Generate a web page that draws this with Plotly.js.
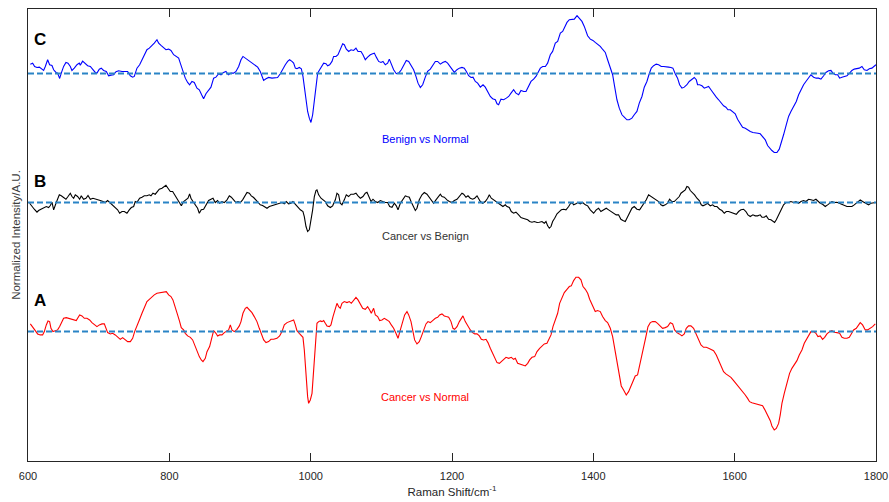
<!DOCTYPE html>
<html><head><meta charset="utf-8">
<script src="https://cdn.plot.ly/plotly-3.0.1.min.js"></script>
<style>html,body{margin:0;padding:0;background:#fff}#chart{width:889px;height:502px}</style>
</head><body><div id="chart"></div>
<script>
// Raman shift (cm^-1) and difference intensity (A.U.) pairs
const spectrumC = [ // Benign vs Normal
[603.3,0.093],[606.6,0.103],[609.4,0.070],[612.7,0.060],[616.0,0.063],[618.3,0.047],[622.1,0.030],[624.5,0.070],[627.8,0.137],[630.6,0.087],
[633.9,0.080],[636.3,0.037],[639.6,0.010],[641.9,0.003],[644.8,-0.050],[647.1,0.003],[650.4,0.070],[653.7,0.110],[656.6,0.103],[659.9,0.070],
[662.2,0.030],[665.5,0.053],[669.3,0.087],[672.6,0.103],[674.0,0.083],[677.3,0.123],[681.1,0.103],[684.4,0.077],[688.2,0.070],[691.5,0.043],
[695.2,0.010],[697.6,0.003],[700.9,0.043],[703.7,0.053],[707.0,0.030],[710.8,0.020],[714.1,-0.023],[717.4,-0.017],[721.2,-0.013],[724.5,0.017],
[728.3,0.027],[733.0,0.020],[737.7,0.023],[741.0,0.020],[744.8,-0.023],[748.1,-0.037],[750.4,-0.030],[754.2,0.053],[758.0,0.087],[761.3,0.137],
[764.6,0.187],[768.3,0.237],[771.7,0.253],[775.4,0.277],[778.7,0.303],[782.5,0.337],[784.9,0.303],[788.2,0.280],[791.9,0.260],[795.2,0.237],
[799.0,0.243],[802.3,0.230],[806.1,0.187],[809.4,0.170],[813.2,0.153],[815.5,0.103],[818.8,0.037],[822.6,-0.047],[825.9,-0.090],[828.7,-0.113],
[832.0,-0.080],[835.3,-0.090],[839.1,-0.147],[842.4,-0.163],[845.7,-0.213],[848.5,-0.253],[851.8,-0.203],[855.6,-0.163],[858.9,-0.137],[862.7,-0.047],
[866.0,-0.037],[869.8,-0.003],[873.1,-0.013],[876.8,0.010],[880.1,0.020],[883.5,-0.013],[887.2,0.003],[891.0,0.003],[894.3,0.020],[898.1,0.070],
[901.4,0.137],[904.2,0.170],[907.5,0.153],[910.8,0.137],[914.6,0.120],[917.9,0.103],[921.6,0.077],[925.0,0.063],[928.7,0.020],[931.1,-0.023],
[933.4,-0.070],[936.8,-0.053],[940.5,-0.040],[945.2,-0.047],[950.0,-0.047],[953.2,-0.040],[957.0,-0.003],[960.8,0.053],[964.1,0.087],[967.4,0.120],
[970.2,0.137],[973.5,0.120],
[975.9,0.103],[978.3,0.053],[980.6,0.047],[983.9,0.060],[986.8,0.047],[989.1,-0.030],[991.0,-0.130],[993.4,-0.263],[995.7,-0.380],[998.1,-0.447],
[1000.4,-0.490],[1002.8,-0.413],[1005.2,-0.263],[1007.5,-0.097],[1009.9,0.003],[1012.7,0.037],[1016.0,0.077],[1018.4,0.103],[1021.7,0.097],[1024.0,0.077],
[1026.9,0.087],[1030.2,0.120],[1032.5,0.170],[1035.8,0.170],[1038.7,0.187],[1042.0,0.237],[1045.3,0.297],[1047.6,0.287],[1050.5,0.243],[1053.8,0.220],
[1057.1,0.237],[1060.8,0.230],[1064.1,0.253],[1067.0,0.220],[1071.2,0.220],[1074.0,0.187],[1077.3,0.137],[1080.6,0.163],[1084.4,0.187],[1087.7,0.197],
[1090.1,0.203],[1092.9,0.163],[1096.2,0.120],[1099.5,0.110],[1102.3,0.120],[1105.6,0.087],[1108.9,0.103],[1111.3,0.143],[1114.1,0.097],[1117.4,0.037],
[1121.2,-0.003],[1124.5,0.003],[1128.3,0.037],[1131.6,0.077],[1135.3,0.130],[1138.7,0.120],[1142.0,0.087],[1145.7,0.037],[1149.0,-0.030],[1151.9,-0.097],
[1155.2,-0.140],[1158.5,-0.113],[1162.2,-0.037],[1165.5,0.020],[1169.3,0.043],[1172.6,0.077],[1176.4,0.120],[1179.7,0.120],[1183.5,0.093],[1186.8,0.110],
[1190.5,0.120],[1193.8,0.103],[1197.6,0.070],[1200.9,0.037],[1203.3,0.010],[1207.0,0.037],[1210.4,0.053],[1214.1,0.060],[1217.4,0.053],[1220.3,0.020],
[1223.6,-0.023],[1226.9,-0.040],[1229.7,-0.037],[1233.0,-0.080],[1236.3,-0.097],[1240.1,-0.137],[1243.9,-0.113],[1247.1,-0.137],[1250.4,-0.180],[1254.2,-0.230],
[1257.5,-0.253],[1261.3,-0.263],[1263.7,-0.303],[1266.0,-0.313],[1269.3,-0.257],[1273.1,-0.263],[1276.9,-0.247],[1280.2,-0.230],[1283.5,-0.197],[1287.2,-0.163],
[1290.5,-0.197],[1294.3,-0.213],[1297.6,-0.170],[1301.4,-0.180],[1304.7,-0.180],[1308.5,-0.130],[1311.8,-0.080],[1315.5,-0.057],[1318.8,-0.030],[1321.2,0.003],
[1325.0,0.053],[1328.3,0.070],[1332.1,0.070],[1335.3,0.103],[1339.1,0.187],[1342.4,0.220],[1346.2,0.303],[1349.5,0.320],[1353.3,0.403],[1356.6,0.420],
[1359.4,0.470],[1362.7,0.510],[1366.0,0.537],[1369.8,0.543],[1373.1,0.543],[1376.9,0.577],[1380.2,0.553],[1383.9,0.520],
[1387.2,0.470],[1391.9,0.377],[1395.7,0.343],[1399.4,0.330],[1402.7,0.310],[1406.0,0.293],[1409.8,0.270],[1413.6,0.237],[1416.9,0.210],[1420.2,0.137],
[1424.0,0.053],[1427.3,-0.013],[1430.1,-0.130],[1433.4,-0.263],[1436.7,-0.347],[1440.5,-0.413],[1443.8,-0.437],[1447.5,-0.463],[1450.8,-0.463],[1454.6,-0.447],
[1457.9,-0.413],[1461.7,-0.380],[1465.0,-0.297],[1468.8,-0.230],[1472.1,-0.137],[1475.8,-0.080],[1479.1,-0.003],[1482.0,0.053],[1485.3,0.077],[1489.0,0.093],
[1492.4,0.087],[1496.1,0.070],[1499.4,0.070],[1503.2,0.063],[1506.5,0.063],[1509.8,0.060],[1512.6,0.053],[1515.9,-0.003],[1519.2,-0.047],[1522.1,-0.113],
[1525.4,-0.147],[1528.7,-0.137],[1532.4,-0.113],[1535.7,-0.080],[1539.5,-0.057],[1542.8,-0.040],[1545.7,-0.063],[1547.5,-0.113],[1550.4,-0.113],[1553.7,-0.123],
[1557.0,-0.147],[1560.7,-0.137],[1563.1,-0.130],[1566.4,-0.163],[1570.2,-0.203],[1574.0,-0.237],[1577.3,-0.263],[1580.6,-0.297],[1584.3,-0.323],[1587.6,-0.337],
[1590.5,-0.363],[1593.8,-0.363],[1597.1,-0.380],[1600.8,-0.403],[1604.1,-0.457],[1607.9,-0.503],[1611.2,-0.537],[1615.0,-0.547],[1618.3,-0.563],[1622.1,-0.580],
[1625.8,-0.590],[1629.1,-0.590],[1632.9,-0.597],[1636.2,-0.603],[1640.0,-0.630],[1643.3,-0.663],[1646.6,-0.720],[1649.4,-0.747],[1652.7,-0.770],[1656.0,-0.790],
[1659.8,-0.790],[1663.1,-0.757],[1665.9,-0.697],[1669.2,-0.613],[1673.0,-0.513],[1676.3,-0.430],[1679.6,-0.380],[1683.4,-0.330],[1687.2,-0.280],[1690.5,-0.213],
[1693.8,-0.157],[1697.5,-0.113],[1700.8,-0.080],[1704.6,-0.037],[1707.9,-0.013],[1711.7,-0.037],[1715.4,-0.047],[1718.8,-0.047],[1722.1,-0.057],[1725.9,-0.023],
[1729.1,0.010],[1732.9,0.027],[1736.2,0.030],[1739.0,0.003],[1742.4,-0.013],[1745.7,-0.013],[1748.5,-0.047],[1751.8,-0.037],[1755.1,-0.030],[1758.9,-0.023],
[1762.6,0.003],[1765.9,0.030],[1769.2,0.043],[1773.0,0.047],[1776.3,0.053],[1780.1,0.070],[1783.4,0.037],[1787.2,0.030],[1790.5,0.047],[1794.2,0.053],
[1797.5,0.070],[1799.9,0.087]
];
const spectrumB = [ // Cancer vs Benign
[602.3,-0.007],[605.6,-0.040],[608.9,-0.067],[612.7,-0.097],[615.0,-0.080],[618.3,-0.067],[622.1,-0.057],[625.9,-0.040],[629.2,-0.050],[631.6,-0.030],
[633.9,0.003],[636.3,-0.073],[639.6,-0.007],[641.9,0.043],[644.3,0.077],[647.1,0.067],[650.4,0.053],[653.7,0.033],[656.6,0.060],[659.9,0.093],
[662.2,0.060],[664.6,0.043],[666.9,0.077],[670.2,0.060],[673.1,0.033],[675.4,0.067],[678.7,0.033],[682.0,0.043],[684.9,0.070],[688.2,0.033],
[691.9,0.043],[695.2,0.037],[698.5,0.033],[702.3,0.020],[706.1,0.010],[709.4,0.000],[712.7,0.020],[716.5,-0.007],[719.8,-0.023],[723.5,-0.057],
[726.8,-0.073],[729.7,-0.107],[733.0,-0.090],[736.3,-0.090],[740.0,-0.107],[743.3,-0.073],[746.2,-0.050],[749.5,-0.040],[751.8,0.010],[754.2,0.003],
[758.0,0.043],[761.3,0.053],[764.6,0.067],[768.3,0.067],[771.7,0.077],[774.0,0.067],[776.8,0.093],[780.1,0.083],[782.5,0.100],[785.8,0.133],
[789.6,0.143],[792.9,0.167],[795.2,0.173],[798.1,0.143],[801.4,0.110],[804.7,0.110],[807.5,0.077],[810.8,0.043],[814.1,-0.007],[817.0,-0.033],
[820.2,0.010],[823.5,0.027],[826.4,0.043],[828.7,0.087],[830.6,0.043],[833.4,0.010],[836.7,-0.023],[840.0,-0.057],[842.4,-0.107],[845.2,-0.073],
[848.5,-0.067],[851.8,-0.023],[855.6,0.020],[858.9,0.033],[861.8,0.043],[865.0,0.000],[868.3,0.020],[871.2,-0.007],[874.5,0.010],[877.8,0.000],
[881.6,0.027],[884.9,0.067],[887.7,0.053],[891.0,0.027],[894.3,0.000],[897.1,0.010],[900.4,0.000],[903.7,0.027],[906.6,0.060],[909.9,0.100],
[913.2,0.093],[916.0,0.067],[919.3,0.050],[922.6,0.027],[925.4,0.010],[928.7,-0.023],[932.0,-0.030],[934.9,-0.040],[938.2,-0.057],[941.5,-0.040],
[945.2,-0.033],[948.5,-0.023],[952.3,-0.013],[956.1,-0.007],[959.4,0.000],[962.7,-0.013],[965.5,0.010],[968.8,-0.013],[972.1,-0.007],[974.9,0.010],
[978.3,-0.017],[983.0,-0.057],[985.4,-0.073],[989.1,-0.090],[991.0,-0.140],[993.4,-0.240],[995.7,-0.290],[998.1,-0.273],[1000.4,-0.190],[1002.8,-0.073],
[1005.2,0.060],[1007.5,0.120],[1008.9,0.127],[1011.3,0.077],[1014.6,0.043],[1017.4,0.027],[1020.7,0.010],[1024.0,-0.033],[1027.8,-0.050],[1031.1,-0.033],
[1034.9,0.027],[1037.2,0.093],[1039.6,0.077],[1041.9,-0.007],[1044.3,-0.023],[1047.6,0.027],[1050.4,0.077],[1053.7,0.060],[1057.0,0.083],[1060.8,0.083],
[1064.1,0.093],[1067.0,0.067],[1070.3,0.043],[1074.0,0.060],[1077.3,0.093],[1079.7,0.103],[1082.0,0.060],[1085.4,0.010],[1088.2,0.033],[1091.5,0.010],
[1094.8,0.000],[1098.6,0.020],[1101.9,0.010],[1105.6,0.000],[1108.9,0.000],[1111.8,-0.040],[1115.1,-0.047],[1118.4,-0.007],[1121.2,-0.033],[1123.6,-0.073],
[1126.9,-0.007],[1130.2,0.027],[1133.9,0.067],[1136.3,0.060],[1139.6,0.053],[1142.0,0.010],[1144.8,-0.040],[1148.1,-0.080],[1150.4,-0.057],[1153.7,0.027],
[1157.5,0.077],[1160.8,0.100],[1164.6,0.083],[1166.9,0.060],[1170.3,0.027],[1174.0,-0.007],[1177.3,0.027],[1181.1,0.060],[1183.5,0.083],[1185.8,0.060],
[1189.1,0.053],[1192.9,0.027],[1196.2,0.010],[1200.0,0.000],[1203.3,0.020],[1207.1,0.033],[1210.4,0.060],[1214.1,0.093],[1216.5,0.083],[1219.8,0.053],
[1222.6,0.067],[1225.9,0.043],[1229.2,0.033],[1232.1,0.043],[1235.4,0.067],[1237.7,0.043],[1240.1,0.010],[1243.4,-0.007],[1247.1,0.010],[1250.4,0.043],
[1252.8,0.077],[1255.6,0.043],[1258.9,0.027],[1262.2,0.010],[1266.0,-0.007],[1269.3,-0.023],[1272.1,-0.040],[1275.4,-0.023],[1277.8,-0.040],[1281.1,-0.050],
[1283.9,-0.090],[1287.2,-0.107],[1290.5,-0.097],[1294.3,-0.123],[1297.6,-0.150],[1300.4,-0.157],[1303.7,-0.167],[1307.1,-0.173],[1309.9,-0.190],[1313.2,-0.197],
[1316.5,-0.190],[1320.3,-0.200],[1323.6,-0.197],[1327.3,-0.190],[1330.6,-0.207],[1333.0,-0.190],[1335.4,-0.233],[1337.7,-0.257],[1340.1,-0.240],[1342.4,-0.190],
[1345.3,-0.157],[1348.6,-0.113],[1351.9,-0.090],[1354.7,-0.073],[1358.0,-0.067],[1361.3,-0.073],[1365.1,-0.040],[1367.4,-0.013],[1369.8,0.000],[1372.1,-0.023],
[1375.4,-0.013],[1377.8,0.000],[1381.6,-0.013],[1384.9,0.000],[1388.7,-0.023],[1392.0,-0.033],
[1395.7,-0.073],[1400.4,-0.107],[1404.1,-0.073],[1407.4,-0.057],[1410.7,-0.090],[1414.5,-0.073],[1418.3,-0.057],[1421.6,-0.073],[1424.9,-0.090],[1428.7,-0.107],
[1432.4,-0.123],[1435.7,-0.123],[1439.0,-0.167],[1441.9,-0.180],[1445.2,-0.190],[1447.5,-0.157],[1451.3,-0.107],[1454.6,-0.057],[1457.9,-0.040],[1461.7,-0.067],
[1465.5,-0.073],[1468.8,-0.040],[1472.1,-0.007],[1474.9,0.027],[1478.2,0.077],[1481.5,0.060],[1485.3,0.043],[1489.1,0.020],[1492.4,0.010],[1495.7,-0.023],
[1498.5,-0.033],[1501.8,-0.023],[1505.1,-0.007],[1507.9,0.033],[1511.2,0.010],[1514.5,0.010],[1518.3,0.033],[1521.6,0.060],[1524.0,0.093],[1526.8,0.110],
[1530.1,0.127],[1532.4,0.160],[1534.8,0.153],[1537.2,0.120],[1540.5,0.100],[1543.3,0.077],[1546.6,0.043],[1549.9,0.020],[1552.7,-0.023],[1555.1,-0.033],
[1558.4,-0.023],[1561.7,-0.007],[1565.5,-0.033],[1568.8,-0.023],[1571.6,-0.040],[1574.9,-0.040],[1578.7,-0.067],[1582.0,-0.080],[1585.3,-0.107],[1588.1,-0.090],
[1591.4,-0.090],[1594.7,-0.100],[1598.5,-0.107],[1602.3,-0.117],[1605.6,-0.090],[1608.9,-0.073],[1612.6,-0.067],[1615.9,-0.090],[1618.8,-0.123],[1622.1,-0.140],
[1625.8,-0.123],[1629.1,-0.133],[1632.4,-0.133],[1636.2,-0.123],[1638.6,-0.147],[1641.9,-0.147],[1644.7,-0.133],[1648.0,-0.167],[1651.3,-0.173],[1654.1,-0.190],
[1656.5,-0.200],[1658.9,-0.173],[1662.2,-0.123],[1665.5,-0.073],[1669.2,-0.023],[1672.5,0.000],[1676.3,0.000],[1679.6,0.010],[1683.4,0.000],[1686.7,0.010],
[1690.5,-0.007],[1693.8,0.010],[1697.5,0.020],[1700.8,0.010],[1704.6,0.033],[1707.9,0.027],[1711.7,0.020],[1715.0,0.033],[1717.8,0.010],[1721.1,-0.007],
[1724.4,-0.017],[1728.2,-0.040],[1731.5,-0.023],[1734.3,-0.007],[1737.6,0.010],[1740.9,0.000],[1744.7,0.003],[1748.0,-0.007],[1751.8,-0.017],[1755.1,-0.030],
[1758.9,-0.040],[1762.2,-0.040],[1765.9,-0.040],[1769.2,-0.023],[1772.1,-0.007],[1775.4,0.010],[1777.7,0.027],[1781.0,0.010],[1783.4,0.000],[1786.2,-0.007],
[1789.5,-0.023],[1792.8,-0.007],[1796.6,0.000],[1799.9,0.000]
];
const spectrumA = [ // Cancer vs Normal
[603.3,0.077],[606.6,0.050],[610.3,0.010],[613.6,-0.023],[617.4,-0.033],[620.7,-0.033],[623.1,0.000],[625.9,0.067],[628.3,0.107],[630.6,0.100],
[632.5,0.033],[635.3,0.000],[638.6,0.007],[641.9,0.017],[644.8,0.050],[648.1,0.107],[650.4,0.133],[654.2,0.140],[657.5,0.133],[660.8,0.133],
[664.6,0.123],[668.3,0.110],[670.2,0.133],[673.1,0.167],[676.4,0.157],[679.7,0.133],[683.4,0.133],[687.2,0.117],[690.5,0.090],[693.8,0.067],
[697.6,0.050],[700.9,0.067],[704.7,0.077],[708.0,0.077],[710.8,0.033],[712.7,-0.010],[716.5,-0.023],[719.8,-0.017],[723.5,-0.033],[726.8,-0.057],
[730.6,-0.077],[733.9,-0.060],[737.7,-0.077],[741.0,-0.100],[744.8,-0.100],[748.1,-0.067],[750.9,0.000],[754.2,0.067],[758.0,0.123],[761.3,0.183],
[764.6,0.233],[768.3,0.300],[771.7,0.323],[775.4,0.350],[778.7,0.367],[782.5,0.383],[786.3,0.390],[789.6,0.393],[792.9,0.400],[795.7,0.400],
[799.0,0.367],[802.3,0.350],[805.1,0.317],[808.4,0.250],[811.7,0.167],[814.6,0.100],[816.9,0.040],[820.2,0.017],[822.6,-0.017],[825.9,-0.043],
[829.7,-0.057],[833.0,-0.083],[835.8,-0.133],[839.1,-0.200],[842.4,-0.250],[845.2,-0.283],[847.6,-0.300],[850.9,-0.267],[853.3,-0.200],[857.0,-0.150],
[859.4,-0.083],[862.7,0.010],[866.0,-0.017],[868.3,-0.043],[871.2,-0.033],[874.5,-0.033],[877.8,-0.010],[880.6,0.000],[883.9,0.017],[886.3,0.067],
[888.6,0.017],[891.9,0.000],[895.7,0.023],[899.0,0.057],[901.4,0.100],[904.2,0.183],[907.5,0.233],[909.9,0.243],[913.2,0.217],[916.9,0.190],
[920.2,0.150],[924.0,0.100],[927.3,0.033],[930.1,-0.023],[933.5,-0.083],[936.8,-0.110],[940.5,-0.100],[943.8,-0.077],[947.6,-0.077],[952.3,-0.067],
[956.1,-0.043],[959.4,0.000],[962.7,0.067],[966.5,0.090],[969.8,0.100],[973.5,0.107],[975.9,0.117],[978.3,0.067],[980.6,0.010],[983.9,-0.017],
[986.3,-0.033],[989.1,-0.057],[991.0,-0.183],[992.4,-0.350],[993.8,-0.517],[995.7,-0.650],[997.1,-0.717],[999.5,-0.683],[1001.9,-0.617],[1004.2,-0.417],
[1006.6,-0.150],[1008.9,0.083],[1011.3,0.100],[1013.7,0.107],[1016.0,0.100],[1018.4,0.110],[1020.7,0.083],[1023.1,0.057],[1026.4,0.050],[1028.7,0.067],
[1031.6,0.150],[1033.9,0.217],[1037.2,0.283],[1039.6,0.250],[1041.9,0.233],[1044.3,0.283],[1047.6,0.300],[1051.4,0.290],[1054.7,0.300],[1057.5,0.283],
[1060.8,0.317],[1064.1,0.343],[1067.0,0.317],[1070.3,0.267],[1073.6,0.233],[1077.3,0.223],[1080.6,0.250],[1083.5,0.217],[1085.8,0.183],[1089.1,0.233],
[1091.5,0.167],[1094.8,0.150],[1097.6,0.110],[1100.9,0.117],[1104.2,0.133],[1108.0,0.117],[1111.3,0.100],[1114.1,0.067],[1117.4,0.033],[1120.7,-0.017],
[1123.6,-0.067],[1126.9,0.017],[1130.2,0.100],[1133.0,0.167],[1136.3,0.200],[1138.7,0.167],[1142.0,0.100],[1144.8,0.000],[1147.1,-0.083],[1150.4,-0.123],
[1153.7,-0.100],[1156.6,-0.050],[1159.9,0.017],[1163.2,0.077],[1166.0,0.100],[1169.3,0.090],[1172.6,0.110],[1176.4,0.133],[1179.7,0.143],[1182.5,0.167],
[1185.8,0.177],[1189.1,0.157],[1191.9,0.150],[1195.3,0.143],[1198.6,0.100],[1201.4,0.033],[1203.7,0.023],[1207.1,0.050],[1210.4,0.100],[1213.2,0.133],
[1215.5,0.157],[1218.8,0.100],[1222.1,0.057],[1225.9,0.017],[1229.2,-0.010],[1232.1,-0.023],[1235.4,-0.023],[1238.7,-0.043],[1241.5,-0.077],[1244.8,-0.083],
[1248.1,-0.077],[1250.9,-0.110],[1254.2,-0.167],[1257.5,-0.217],[1260.4,-0.250],[1263.7,-0.310],[1267.0,-0.317],[1269.8,-0.300],[1273.1,-0.277],[1276.4,-0.257],
[1280.2,-0.267],[1283.9,-0.257],[1287.2,-0.277],[1289.6,-0.267],[1292.9,-0.317],[1296.7,-0.323],[1300.0,-0.333],[1303.7,-0.343],[1307.1,-0.317],[1309.9,-0.283],
[1313.2,-0.257],[1317.0,-0.250],[1320.3,-0.200],[1324.0,-0.167],[1327.3,-0.143],[1330.6,-0.123],[1334.4,-0.117],[1336.8,-0.083],[1340.1,-0.033],[1342.9,0.050],
[1346.2,0.117],[1349.5,0.183],[1352.3,0.283],[1355.6,0.343],[1358.9,0.390],[1362.7,0.423],[1366.0,0.450],[1368.8,0.457],[1372.1,0.510],[1375.4,0.543],
[1379.2,0.543],[1382.5,0.517],[1385.4,0.450],[1388.7,0.423],[1392.0,0.383],[1394.8,0.323],
[1399.4,0.250],[1402.7,0.200],[1406.0,0.210],[1409.8,0.200],[1413.1,0.150],[1416.9,0.110],[1420.2,0.090],[1424.0,0.033],[1427.3,-0.050],[1430.1,-0.167],
[1433.4,-0.283],[1436.7,-0.417],[1439.5,-0.543],[1442.8,-0.583],[1446.6,-0.633],[1449.9,-0.600],[1453.2,-0.550],[1457.0,-0.483],[1459.3,-0.443],[1462.6,-0.433],
[1465.5,-0.343],[1468.8,-0.250],[1471.1,-0.183],[1474.4,-0.050],[1477.3,0.050],[1480.6,0.090],[1483.9,0.100],[1487.6,0.100],[1490.9,0.083],[1494.7,0.050],
[1498.0,0.033],[1501.8,0.040],[1505.1,0.050],[1508.9,0.090],[1512.2,0.077],[1515.0,0.017],[1518.3,-0.010],[1521.6,-0.023],[1525.4,-0.043],[1528.7,-0.023],
[1531.5,0.033],[1534.8,0.057],[1538.1,0.057],[1541.9,0.033],[1545.2,-0.017],[1549.0,-0.090],[1552.3,-0.133],[1556.0,-0.157],[1559.8,-0.157],[1563.1,-0.167],
[1566.9,-0.177],[1570.2,-0.190],[1574.0,-0.233],[1577.3,-0.283],[1580.6,-0.333],[1584.3,-0.400],[1587.6,-0.423],[1591.4,-0.443],[1594.7,-0.457],[1598.5,-0.490],
[1601.8,-0.517],[1604.6,-0.550],[1607.9,-0.567],[1611.2,-0.600],[1615.0,-0.633],[1618.3,-0.667],[1621.1,-0.700],[1624.4,-0.710],[1629.1,-0.717],[1632.9,-0.723],
[1636.2,-0.733],[1639.5,-0.740],[1642.4,-0.777],[1645.7,-0.823],[1648.0,-0.850],[1650.4,-0.890],[1652.7,-0.943],[1656.0,-0.983],[1658.9,-0.967],[1662.2,-0.917],
[1664.5,-0.833],[1666.9,-0.717],[1670.2,-0.617],[1674.0,-0.517],[1677.7,-0.417],[1681.0,-0.367],[1684.3,-0.333],[1688.1,-0.290],[1691.4,-0.233],[1695.2,-0.183],
[1698.5,-0.117],[1701.3,-0.083],[1704.6,-0.033],[1707.9,0.000],[1711.7,0.000],[1715.0,-0.017],[1717.8,-0.050],[1721.1,-0.043],[1724.4,-0.077],[1727.3,-0.057],
[1730.6,-0.023],[1734.3,0.000],[1737.6,0.010],[1740.9,-0.007],[1744.7,-0.010],[1748.5,-0.017],[1751.8,-0.057],[1755.1,-0.067],[1758.9,-0.067],[1762.2,-0.057],
[1765.0,-0.023],[1768.3,0.017],[1772.1,0.033],[1775.4,0.067],[1777.7,0.090],[1781.0,0.067],[1784.8,0.017],[1788.1,0.017],[1791.9,0.033],[1795.2,0.050],
[1799.0,0.077]
];
const seriesLabels = ['Benign vs Normal', 'Cancer vs Benign', 'Cancer vs Normal'];
const panelLetters = ['C', 'B', 'A'];
const offsets = [3.873, 2.583, 1.293];     // vertical stacking offsets (A.U.)
const xRange = [600, 1800];
const xTicks = [600, 800, 1000, 1200, 1400, 1600, 1800];
const yRange = [0, 4.517];

const colors = ['#0000ff', '#000000', '#ff0000'];
const labelColors = ['#0000ff', '#333333', '#ff0000'];
const spectra = [spectrumC, spectrumB, spectrumA];
const FONT = '"Liberation Sans", Arial, Helvetica, sans-serif';

const traces = [];
spectra.forEach((s, i) => {
  traces.push({
    x: s.map(p => p[0]), y: s.map(p => p[1] + offsets[i]),
    type: 'scatter', mode: 'lines', line: {color: colors[i], width: 1.1},
    hoverinfo: 'skip', showlegend: false
  });
});
offsets.forEach(o => {
  traces.push({
    x: xRange, y: [o, o], type: 'scatter', mode: 'lines',
    line: {color: '#2a84c6', width: 2, dash: '6px,3px'},
    hoverinfo: 'skip', showlegend: false
  });
});

const annotations = [];
const letterY = [4.21, 2.79, 1.60];
const labelY = [3.22, 2.25, 0.64];
panelLetters.forEach((l, i) => {
  annotations.push({x: 617, y: letterY[i], xref: 'x', yref: 'y', text: '<b>' + l + '</b>',
    showarrow: false, font: {family: FONT, size: 17, color: '#000'}});
  annotations.push({x: 1162, y: labelY[i], xref: 'x', yref: 'y', text: seriesLabels[i],
    showarrow: false, font: {family: FONT, size: 11, color: labelColors[i]}});
});

const layout = {
  width: 889, height: 502,
  margin: {l: 28, r: 13, t: 9, b: 41},
  paper_bgcolor: '#fff', plot_bgcolor: '#fff',
  font: {family: FONT, color: '#262626'},
  xaxis: {
    range: xRange, tickvals: xTicks, ticktext: xTicks.map(String),
    ticks: 'inside', ticklen: 8, tickcolor: '#262626', tickwidth: 1,
    ticklabelstandoff: 5,
    showline: true, linecolor: '#262626', linewidth: 1, mirror: 'ticks',
    showgrid: false, zeroline: false,
    tickfont: {family: FONT, size: 11, color: '#262626'},
    title: {text: 'Raman Shift/cm<sup>-1</sup>', font: {family: FONT, size: 11.5, color: '#262626'}, standoff: 6}
  },
  yaxis: {
    range: yRange, showticklabels: false, ticks: '',
    showline: true, linecolor: '#262626', linewidth: 1, mirror: true,
    showgrid: false, zeroline: false,
    title: {text: 'Normalized Intensity/A.U.', font: {family: FONT, size: 11.5, color: '#404040'}, standoff: 3}
  },
  annotations: annotations,
  showlegend: false
};
Plotly.newPlot('chart', traces, layout, {displayModeBar: false, staticPlot: true});
</script></body></html>
